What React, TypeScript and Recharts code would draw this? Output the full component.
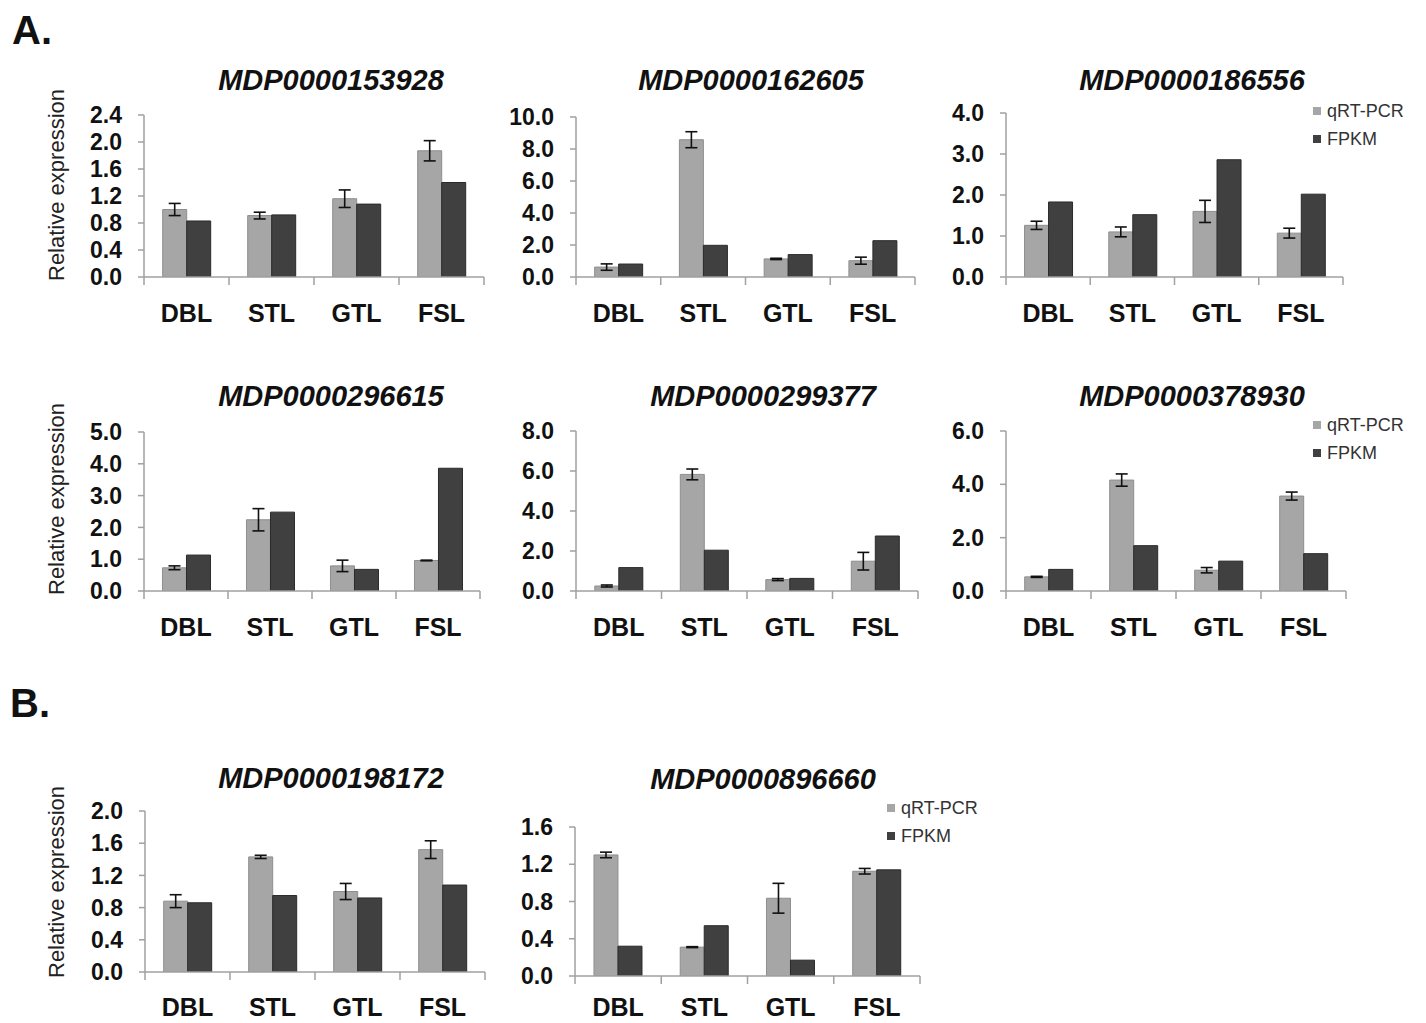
import { Bar, BarChart, ErrorBar, Legend, XAxis, YAxis } from 'recharts'

const CATEGORIES = ['DBL', 'STL', 'GTL', 'FSL']
const SERIES = ['qRT-PCR', 'FPKM']

const QRT_153928 = [1.0, 0.91, 1.16, 1.87]
const ERR_153928 = [0.09, 0.05, 0.13, 0.15]
const FPKM_153928 = [0.83, 0.92, 1.08, 1.4]
const TICKS_153928 = [0, 0.4, 0.8, 1.2, 1.6, 2.0, 2.4]

const QRT_162605 = [0.62, 8.58, 1.13, 1.02]
const ERR_162605 = [0.2, 0.5, 0.04, 0.22]
const FPKM_162605 = [0.81, 1.98, 1.4, 2.27]
const TICKS_162605 = [0, 2, 4, 6, 8, 10]

const QRT_186556 = [1.26, 1.1, 1.6, 1.07]
const ERR_186556 = [0.1, 0.12, 0.27, 0.12]
const FPKM_186556 = [1.83, 1.52, 2.86, 2.02]
const TICKS_186556 = [0, 1, 2, 3, 4]

const QRT_296615 = [0.73, 2.24, 0.79, 0.96]
const ERR_296615 = [0.06, 0.35, 0.18, 0.01]
const FPKM_296615 = [1.13, 2.48, 0.68, 3.86]
const TICKS_296615 = [0, 1, 2, 3, 4, 5]

const QRT_299377 = [0.25, 5.83, 0.57, 1.49]
const ERR_299377 = [0.05, 0.27, 0.05, 0.44]
const FPKM_299377 = [1.17, 2.04, 0.63, 2.75]
const TICKS_299377 = [0, 2, 4, 6, 8]

const QRT_378930 = [0.53, 4.16, 0.78, 3.56]
const ERR_378930 = [0.02, 0.23, 0.1, 0.15]
const FPKM_378930 = [0.81, 1.7, 1.12, 1.4]
const TICKS_378930 = [0, 2, 4, 6]

const QRT_198172 = [0.88, 1.43, 1.0, 1.52]
const ERR_198172 = [0.08, 0.02, 0.1, 0.11]
const FPKM_198172 = [0.86, 0.95, 0.92, 1.08]
const TICKS_198172 = [0, 0.4, 0.8, 1.2, 1.6, 2.0]

const QRT_896660 = [1.3, 0.31, 0.835, 1.125]
const ERR_896660 = [0.03, 0.005, 0.16, 0.03]
const FPKM_896660 = [0.32, 0.54, 0.17, 1.14]
const TICKS_896660 = [0, 0.4, 0.8, 1.2, 1.6]

const FONT = '"Liberation Sans", Arial, sans-serif'
const LIGHT = '#a6a6a6'
const DARK = '#404040'
const AXIS = '#a0a0a0'

// plot-area geometry of each panel on the page
interface Panel {
  gene: string
  qrt: number[]
  err: number[]
  fpkm: number[]
  ticks: number[]
  x0: number
  x1: number
  y0: number
  y1: number
  titleX: number
  titleY: number
  labelDy: number
  xh: number
  legend?: { x: number; y: number }
  yLabelY?: number
}

const PANELS: Panel[] = [
  { gene: 'MDP0000153928', qrt: QRT_153928, err: ERR_153928, fpkm: FPKM_153928, ticks: TICKS_153928, x0: 144, x1: 484, y0: 115, y1: 277, titleX: 331, titleY: 80, labelDy: 45, xh: 60, yLabelY: 185 },
  { gene: 'MDP0000162605', qrt: QRT_162605, err: ERR_162605, fpkm: FPKM_162605, ticks: TICKS_162605, x0: 576, x1: 915, y0: 117, y1: 277, titleX: 751, titleY: 80, labelDy: 45, xh: 60 },
  { gene: 'MDP0000186556', qrt: QRT_186556, err: ERR_186556, fpkm: FPKM_186556, ticks: TICKS_186556, x0: 1006, x1: 1343, y0: 113, y1: 277, titleX: 1192, titleY: 80, labelDy: 45, xh: 60, legend: { x: 1313, y: 97 } },
  { gene: 'MDP0000296615', qrt: QRT_296615, err: ERR_296615, fpkm: FPKM_296615, ticks: TICKS_296615, x0: 144, x1: 480, y0: 432, y1: 591, titleX: 331, titleY: 396, labelDy: 45, xh: 60, yLabelY: 499 },
  { gene: 'MDP0000299377', qrt: QRT_299377, err: ERR_299377, fpkm: FPKM_299377, ticks: TICKS_299377, x0: 576, x1: 918, y0: 431, y1: 591, titleX: 763, titleY: 396, labelDy: 45, xh: 60 },
  { gene: 'MDP0000378930', qrt: QRT_378930, err: ERR_378930, fpkm: FPKM_378930, ticks: TICKS_378930, x0: 1006, x1: 1346, y0: 431, y1: 591, titleX: 1192, titleY: 396, labelDy: 45, xh: 60, legend: { x: 1313, y: 411 } },
  { gene: 'MDP0000198172', qrt: QRT_198172, err: ERR_198172, fpkm: FPKM_198172, ticks: TICKS_198172, x0: 145, x1: 485, y0: 811, y1: 972, titleX: 331, titleY: 778, labelDy: 44, xh: 50, yLabelY: 882 },
  { gene: 'MDP0000896660', qrt: QRT_896660, err: ERR_896660, fpkm: FPKM_896660, ticks: TICKS_896660, x0: 575, x1: 920, y0: 827, y1: 976, titleX: 763, titleY: 779, labelDy: 40, xh: 47, legend: { x: 887, y: 794 } },
]

const YW = 100
const TM = 15
const RM = 4

function CategoryTick(props: any) {
  const { x, y, payload, band, dy } = props
  const left = x - band / 2
  const right = x + band / 2
  return (
    <g>
      <line x1={left} y1={y} x2={left} y2={y + 8} stroke={AXIS} strokeWidth={1.5} />
      {payload.index === CATEGORIES.length - 1 && (
        <line x1={right} y1={y} x2={right} y2={y + 8} stroke={AXIS} strokeWidth={1.5} />
      )}
      <text x={x} y={y + dy} textAnchor="middle" fontSize={25} fontWeight="bold" fill="#111" fontFamily={FONT}>
        {payload.value}
      </text>
    </g>
  )
}

function LegendBox() {
  const colors = [LIGHT, DARK]
  return (
    <div style={{ fontFamily: FONT, fontSize: 18, color: '#333', whiteSpace: 'nowrap' }}>
      {SERIES.map((name, i) => (
        <div key={name} style={{ display: 'flex', alignItems: 'center', height: 28 }}>
          <span style={{ width: 8, height: 8, background: colors[i], marginRight: 6 }} />
          <span>{name}</span>
        </div>
      ))}
    </div>
  )
}

function GeneChart({ p }: { p: Panel }) {
  const data = CATEGORIES.map((name, i) => ({
    name,
    qrt: p.qrt[i],
    err: p.err[i],
    fpkm: p.fpkm[i],
  }))
  const plotW = p.x1 - p.x0
  const band = plotW / CATEGORIES.length
  const left = p.x0 - YW
  const top = p.y0 - TM
  const width = YW + plotW + RM
  const height = TM + (p.y1 - p.y0) + p.xh
  const max = p.ticks[p.ticks.length - 1]

  return (
    <div style={{ position: 'absolute', left, top }}>
      <BarChart
        width={width}
        height={height}
        data={data}
        margin={{ top: TM, right: RM, left: 0, bottom: 0 }}
        barCategoryGap="22%"
        barGap={0}
      >
        <XAxis
          dataKey="name"
          height={p.xh}
          axisLine={{ stroke: AXIS, strokeWidth: 1.5 }}
          tickLine={false}
          tickSize={0}
          tickMargin={0}
          interval={0}
          tick={<CategoryTick band={band} dy={p.labelDy} />}
        />
        <YAxis
          width={YW}
          domain={[0, max]}
          ticks={p.ticks}
          interval={0}
          allowDataOverflow
          axisLine={{ stroke: AXIS, strokeWidth: 1.5 }}
          tickLine={{ stroke: AXIS, strokeWidth: 1.5 }}
          tickSize={6}
          tickMargin={16}
          tickFormatter={(v: number) => v.toFixed(1)}
          tick={{ fontSize: 23, fontWeight: 'bold', fill: '#111', fontFamily: FONT }}
        />
        <Bar dataKey="qrt" name={SERIES[0]} fill={LIGHT} stroke="#8e8e8e" strokeWidth={1} isAnimationActive={false}>
          <ErrorBar dataKey="err" width={6} stroke="#111" strokeWidth={1.6} />
        </Bar>
        <Bar dataKey="fpkm" name={SERIES[1]} fill={DARK} stroke="#2a2a2a" strokeWidth={1} isAnimationActive={false} />
        {p.legend && (
          <Legend
            layout="vertical"
            align="center"
            verticalAlign="middle"
            content={<LegendBox />}
            wrapperStyle={{ left: p.legend.x - left, top: p.legend.y - top, width: 130 }}
          />
        )}
      </BarChart>
    </div>
  )
}

export default function App() {
  return (
    <div
      style={{
        position: 'absolute',
        left: 0,
        top: 0,
        width: 1426,
        height: 1023,
        background: '#fff',
        fontFamily: FONT,
        overflow: 'hidden',
      }}
    >
      <div style={{ position: 'absolute', left: 12, top: 8, fontSize: 40, fontWeight: 'bold', color: '#111' }}>A.</div>
      <div style={{ position: 'absolute', left: 10, top: 681, fontSize: 40, fontWeight: 'bold', color: '#111' }}>B.</div>

      {PANELS.map((p) => (
        <div key={p.gene}>
          <div
            style={{
              position: 'absolute',
              left: p.titleX - 200,
              top: p.titleY - 17,
              width: 400,
              textAlign: 'center',
              fontSize: 29,
              lineHeight: '34px',
              fontWeight: 'bold',
              fontStyle: 'italic',
              color: '#111',
            }}
          >
            {p.gene}
          </div>
          {p.yLabelY !== undefined && (
            <div
              style={{
                position: 'absolute',
                left: 57 - 150,
                top: p.yLabelY - 13,
                width: 300,
                height: 26,
                lineHeight: '26px',
                textAlign: 'center',
                fontSize: 22,
                color: '#222',
                transform: 'rotate(-90deg)',
              }}
            >
              Relative expression
            </div>
          )}
          <GeneChart p={p} />
        </div>
      ))}
    </div>
  )
}
